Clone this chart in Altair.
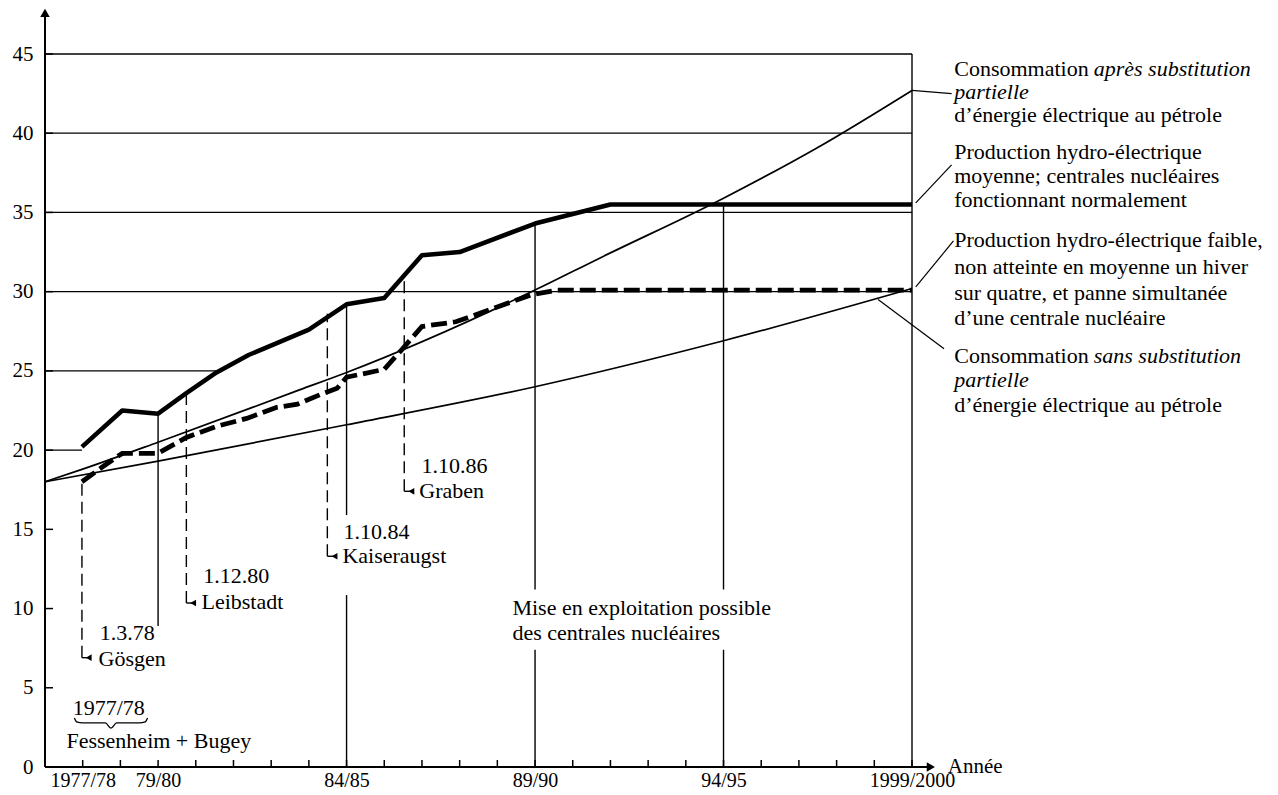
import altair as alt
import pandas as pd

FONT = "Liberation Serif"
FS = 22      # annotation text
FS_AX = 20   # axis labels

# x position: 0 = start of axis, 1 = 1977/78 ... 23 = 1999/2000
year_ticks = [1, 3, 8, 13, 18, 23]
year_labels = ["1977/78", "79/80", "84/85", "89/90", "94/95", "1999/2000"]
all_years = list(range(1, 24))
y_ticks = [0, 5, 10, 15, 20, 25, 30, 35, 40, 45]

# Consommation sans substitution partielle
A_t = [0, 3, 8, 13, 18, 23]
A_v = [18.0, 19.3, 21.6, 24.0, 26.9, 30.2]
# Consommation après substitution partielle
B_t = [0, 1, 3, 6.75, 8, 13, 14.7, 18, 20.5, 23]
B_v = [18.0, 18.8, 20.5, 23.8, 24.9, 30.1, 32.1, 35.9, 39.1, 42.7]
# Production hydro-électrique moyenne
C_t = [0.98, 2.05, 3.0, 3.75, 4.55, 5.4, 7.0, 8.0, 9.0, 10.0, 11.0, 13.0, 15.0, 23.0]
C_v = [20.2, 22.5, 22.3, 23.6, 24.9, 26.0, 27.6, 29.2, 29.6, 32.3, 32.5, 34.3, 35.5, 35.5]
# Production hydro-électrique faible
D_t = [0.98, 1.5, 2.05, 3.0, 3.75, 4.55, 5.35, 6.15, 6.7, 7.3, 7.75, 8.0, 9.0, 9.45, 10.0, 10.9, 12.9, 13.6, 23.0]
D_v = [18.0, 18.9, 19.8, 19.8, 20.8, 21.5, 22.0, 22.7, 22.9, 23.5, 23.9, 24.6, 25.1, 26.3, 27.8, 28.1, 29.8, 30.1, 30.1]

# horizontal grid lines: value, from, to
grid_v = [45, 40, 35, 30, 25, 20]
grid_t0 = [0, 0, 0, 0, 0, 0]
grid_t1 = [23, 23, 23, 23, 4.55, 0.98]

# solid vertical lines (mise en exploitation possible)
sol_t = [3, 8, 8, 13, 13, 18, 18, 23]
sol_v0 = [8.9, 0, 15.9, 0, 11.2, 0, 11.2, 0]
sol_v1 = [22.3, 10.85, 29.2, 7.4, 34.3, 7.4, 35.5, 45]

# dashed vertical lines (plants)
dash_t = [0.98, 3.75, 7.49, 9.53]
dash_v0 = [6.9, 10.35, 13.3, 17.4]
dash_v1 = [17.9, 23.6, 28.6, 31.0]
tri_t = [1.16, 3.93, 7.68, 9.72]

# annotation texts (left aligned)
ann_text = ["1.3.78", "Gösgen", "1.12.80", "Leibstadt", "1.10.84", "Kaiseraugst",
            "1.10.86", "Graben", "Mise en exploitation possible",
            "des centrales nucléaires", "Fessenheim + Bugey"]
ann_t = [1.45, 1.42, 4.2, 4.15, 7.92, 7.89, 9.99, 9.93, 12.4, 12.4, 0.57]
ann_v = [8.45, 6.8, 12.05, 10.4, 14.85, 13.3, 19.0, 17.4, 10.04, 8.46, 1.65]

# brace over "Fessenheim + Bugey"
brace_t = [0.78, 0.84, 1.0, 1.6, 1.75, 1.9, 2.5, 2.66, 2.72]
brace_v = [3.1, 2.85, 2.78, 2.78, 2.45, 2.78, 2.78, 2.85, 3.1]

# right-side labels
rl_t = 24.12
rl_reg_text = ["Consommation", "d\u2019énergie électrique au pétrole",
               "Production hydro-électrique", "moyenne; centrales nucléaires",
               "fonctionnant normalement",
               "Production hydro-électrique faible,", "non atteinte en moyenne un hiver",
               "sur quatre, et panne simultanée", "d\u2019une centrale nucléaire",
               "Consommation", "d\u2019énergie électrique au pétrole"]
rl_reg_v = [44.07, 41.16, 38.83, 37.3, 35.8, 33.27, 31.57, 29.92, 28.35, 25.95, 22.85]
rl_it_text = ["après substitution", "partielle", "sans substitution", "partielle"]
rl_it_t = [27.82, 24.12, 27.82, 24.12]
rl_it_v = [44.07, 42.6, 25.95, 24.43]

# leader lines
lead_t = [23.0, 23.1, 23.1, 22.1]
lead_v = [42.7, 35.6, 30.3, 29.5]
lead_t2 = [24.05, 24.05, 24.1, 23.85]
lead_v2 = [42.5, 38.0, 33.2, 26.4]

W, H = 867, 713

label_expr = " : ".join(
    [f"datum.value == {t} ? '{l}'" for t, l in zip(year_ticks, year_labels)]
) + " : ''"

X = alt.X("t:Q", scale=alt.Scale(domain=[0, 23], nice=False, zero=False),
          axis=alt.Axis(values=year_ticks, labelExpr=label_expr, domain=False, ticks=False,
                        grid=False, title=None, labelFont=FONT, labelFontSize=FS_AX,
                        labelPadding=3, labelColor="black", labelFlush=False,
                        labelOverlap=False))
Y = alt.Y("v:Q", scale=alt.Scale(domain=[0, 45], nice=False, zero=False),
          axis=alt.Axis(values=y_ticks, domain=False, ticks=False, grid=False, title=None,
                        labelFont=FONT, labelFontSize=21, labelPadding=12,
                        labelColor="black"))
X2 = alt.X2("t2:Q")
Y2 = alt.Y2("v2:Q")


def series(ts, vs):
    return pd.DataFrame({"t": ts, "v": vs})


grid_df = pd.DataFrame({"t": grid_t0, "t2": grid_t1, "v": grid_v})
grid = alt.Chart(grid_df).mark_rule(color="black", strokeWidth=1.3).encode(x=X, x2=X2, y=Y)

xaxis = alt.Chart(pd.DataFrame({"t": [0], "t2": [23.5], "v": [0]})).mark_rule(
    color="black", strokeWidth=2).encode(x=X, x2=X2, y=Y)
yaxis = alt.Chart(pd.DataFrame({"t": [0], "v": [0], "v2": [47.6]})).mark_rule(
    color="black", strokeWidth=2).encode(x=X, y=Y, y2=Y2)
xarrow = alt.Chart(pd.DataFrame({"t": [23.5], "v": [0]})).mark_point(
    shape="triangle-right", filled=True, color="black", size=90, opacity=1).encode(x=X, y=Y)
yarrow = alt.Chart(pd.DataFrame({"t": [0], "v": [47.6]})).mark_point(
    shape="triangle-up", filled=True, color="black", size=90, opacity=1).encode(x=X, y=Y)
annee = alt.Chart(pd.DataFrame({"t": [23.95], "v": [0], "s": ["Année"]})).mark_text(
    font=FONT, fontSize=21, align="left", baseline="middle", color="black").encode(
    x=X, y=Y, text="s:N")

xticks = alt.Chart(pd.DataFrame({"t": all_years})).mark_rule(
    color="black", strokeWidth=1.5).encode(x=X, y=alt.value(H), y2=alt.value(H - 7))
yticks = alt.Chart(pd.DataFrame({"v": y_ticks[1:]})).mark_rule(
    color="black", strokeWidth=1.5).encode(y=Y, x=alt.value(0), x2=alt.value(8))

lineA = alt.Chart(series(A_t, A_v)).mark_line(
    color="black", strokeWidth=1.7, interpolate="monotone").encode(x=X, y=Y)
lineB = alt.Chart(series(B_t, B_v)).mark_line(
    color="black", strokeWidth=1.7, interpolate="monotone").encode(x=X, y=Y)
lineC = alt.Chart(series(C_t, C_v)).mark_line(
    color="black", strokeWidth=4.5, strokeJoin="round").encode(x=X, y=Y)
lineD = alt.Chart(series(D_t, D_v)).mark_line(
    color="black", strokeWidth=4.8, strokeDash=[16, 6]).encode(x=X, y=Y)

sol = alt.Chart(pd.DataFrame({"t": sol_t, "v": sol_v0, "v2": sol_v1})).mark_rule(
    color="black", strokeWidth=1.4).encode(x=X, y=Y, y2=Y2)
dsh = alt.Chart(pd.DataFrame({"t": dash_t, "v": dash_v0, "v2": dash_v1})).mark_rule(
    color="black", strokeWidth=1.4, strokeDash=[12, 6]).encode(x=X, y=Y, y2=Y2)
hook = alt.Chart(pd.DataFrame({"t": dash_t, "t2": tri_t, "v": dash_v0})).mark_rule(
    color="black", strokeWidth=1.4).encode(x=X, x2=X2, y=Y)
tris = alt.Chart(pd.DataFrame({"t": tri_t, "v": dash_v0})).mark_point(
    shape="triangle-left", filled=True, color="black", size=45, opacity=1).encode(x=X, y=Y)

ann = alt.Chart(pd.DataFrame({"t": ann_t, "v": ann_v, "s": ann_text})).mark_text(
    font=FONT, fontSize=FS, align="left", baseline="middle", color="black").encode(
    x=X, y=Y, text="s:N")
brace_lbl = alt.Chart(pd.DataFrame({"t": [1.69], "v": [3.72], "s": ["1977/78"]})).mark_text(
    font=FONT, fontSize=FS, align="center", baseline="middle", color="black").encode(
    x=X, y=Y, text="s:N")
brace = alt.Chart(series(brace_t, brace_v)).mark_line(
    color="black", strokeWidth=1.3, interpolate="monotone").encode(x=X, y=Y)

rreg = alt.Chart(pd.DataFrame({"t": [rl_t] * len(rl_reg_v), "v": rl_reg_v, "s": rl_reg_text})).mark_text(
    font=FONT, fontSize=FS, align="left", baseline="middle", color="black").encode(
    x=X, y=Y, text="s:N")
rit = alt.Chart(pd.DataFrame({"t": rl_it_t, "v": rl_it_v, "s": rl_it_text})).mark_text(
    font=FONT, fontSize=FS, fontStyle="italic", align="left", baseline="middle",
    color="black").encode(x=X, y=Y, text="s:N")
leads = alt.Chart(pd.DataFrame({"t": lead_t, "v": lead_v, "t2": lead_t2, "v2": lead_v2})).mark_rule(
    color="black", strokeWidth=1.2).encode(x=X, y=Y, x2=X2, y2=Y2)

chart = alt.layer(
    grid, sol, dsh, hook, tris, lineA, lineB, lineC, lineD, xaxis, yaxis, xarrow, yarrow,
    xticks, yticks, annee, ann, brace_lbl, brace, rreg, rit, leads
).properties(
    width=W, height=H,
    padding={"left": 37, "top": 46, "right": 355, "bottom": 24},
    autosize=alt.AutoSizeParams(type="none"),
    background="white",
).configure_view(strokeWidth=0)

chart.save("out.html", embed_options={"renderer": "svg", "actions": False})
